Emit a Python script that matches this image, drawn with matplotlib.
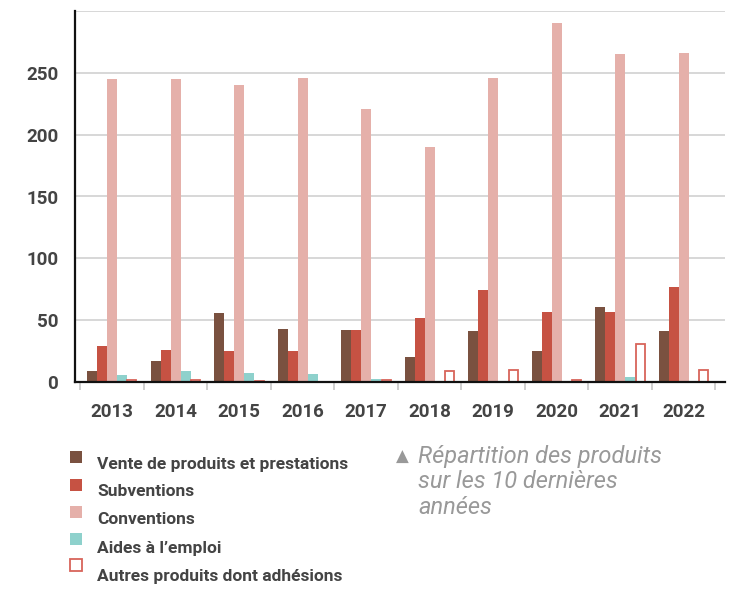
import numpy as np
import matplotlib
matplotlib.use("Agg")
import matplotlib.pyplot as plt
from matplotlib.patches import Rectangle

annees = ["2013", "2014", "2015", "2016", "2017", "2018", "2019", "2020", "2021", "2022"]
vente = [9, 17, 56, 43, 42, 20, 41, 25, 61, 41]
subventions = [29, 26, 25, 25, 42, 52, 74, 57, 57, 77]
conventions = [245, 245, 240, 246, 221, 190, 246, 290, 265, 266]
aides = [5.5, 9, 7.5, 6.5, 2.5, 0, 0.5, 0.5, 4, 0.5]
autres = [1.5, 1.5, 1, 0, 1.5, 9, 10, 1.5, 31, 10]

series = [
    ("Vente de produits et prestations", vente, "#7a5140", False),
    ("Subventions", subventions, "#c65243", False),
    ("Conventions", conventions, "#e5b0aa", False),
    ("Aides à l\u2019emploi", aides, "#8ed1cc", False),
    ("Autres produits dont adhésions", autres, "#d8645a", True),
]

plt.rcParams["font.family"] = ["Roboto", "DejaVu Sans"]

fig = plt.figure(figsize=(7.31, 5.95), dpi=100)
ax = fig.add_axes([75 / 731, 1 - 382 / 595, 650 / 731, 371 / 595])

x = np.arange(len(annees))
largeur = 0.157
for i, (nom, valeurs, couleur, creux) in enumerate(series):
    pos = x + (i - 2) * largeur
    if creux:
        ax.bar(pos, valeurs, width=largeur * 0.9, facecolor="white",
               edgecolor=couleur, linewidth=1.3, zorder=3)
    else:
        ax.bar(pos, valeurs, width=largeur, color=couleur, zorder=3)

ax.set_xlim(-0.583, 9.65)
ax.set_ylim(0, 300)
ax.set_yticks([0, 50, 100, 150, 200, 250, 300])
ax.set_yticklabels(["0", "50", "100", "150", "200", "250", ""])
ax.yaxis.grid(True, color="#d4d4d4", linewidth=1.3, zorder=0)
ax.tick_params(axis="y", length=0, pad=12, labelsize=13.5, labelcolor="#444444")
for lab in ax.get_yticklabels():
    lab.set_fontweight("bold")

ax.set_xticks(np.arange(-0.5, 10, 1.0))
ax.set_xticklabels([])
ax.tick_params(axis="x", length=6, width=1.3, color="#cccccc", direction="out")
for xi, an in zip(x, annees):
    ax.text(xi, -24, an, ha="center", va="center", fontsize=13.5,
            fontweight="bold", color="#444444")

for cote in ["top", "right"]:
    ax.spines[cote].set_visible(False)
ax.spines["left"].set_color("#111111")
ax.spines["left"].set_linewidth(1.6)
ax.spines["bottom"].set_color("#111111")
ax.spines["bottom"].set_linewidth(1.6)
ax.spines["bottom"].set_zorder(4)

# legende manuelle
lignes_y = [464, 492, 520, 548, 577]
carres_y = [457, 485, 512, 539, 565]
for (nom, valeurs, couleur, creux), ty, cy in zip(series, lignes_y, carres_y):
    if creux:
        rect = Rectangle((70 / 731, 1 - (cy + 6) / 595), 12 / 731, 12 / 595,
                         transform=fig.transFigure, facecolor="white",
                         edgecolor=couleur, linewidth=1.3)
    else:
        rect = Rectangle((70 / 731, 1 - (cy + 6) / 595), 12 / 731, 12 / 595,
                         transform=fig.transFigure, facecolor=couleur,
                         edgecolor="none")
    fig.patches.append(rect)
    fig.text(97 / 731, 1 - ty / 595, nom, ha="left", va="center", fontsize=12.5,
             fontweight="bold", color="#444444")

fig.text(402 / 731, 1 - 457 / 595, "\u25b2", ha="center", va="center",
         fontsize=12, color="#999999", family=["DejaVu Sans"])
note = ["Répartition des produits", "sur les 10 dernières", "années"]
for k, ligne in enumerate(note):
    fig.text(418 / 731, 1 - (456 + 26 * k) / 595, ligne, ha="left", va="center",
             fontsize=17, style="italic", color="#999999")

fig.savefig("out.png", dpi=100)
